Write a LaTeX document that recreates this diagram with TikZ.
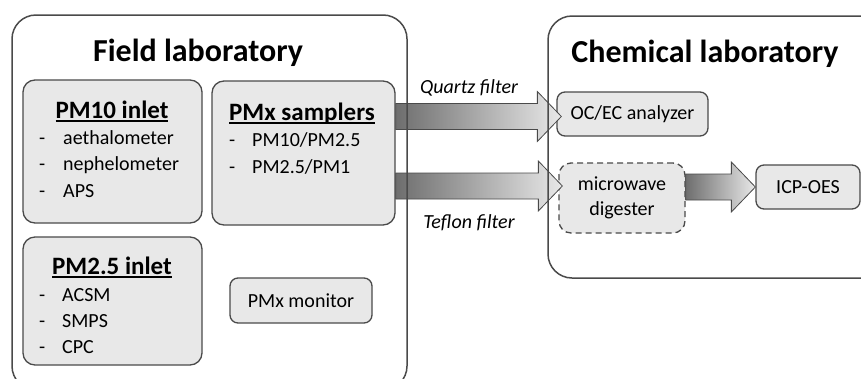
\documentclass[tikz,border=0pt]{standalone}
\usepackage{fontspec}
\setmainfont{Carlito}
\usetikzlibrary{calc,positioning}

\definecolor{boxfill}{HTML}{E8E8E8}
\definecolor{boxline}{HTML}{4A4A4A}
\definecolor{arrowdark}{HTML}{6E6E6E}
\definecolor{arrowlight}{HTML}{E8E8E8}

% underline for the box headings
\newcommand{\hdul}[1]{\setbox0\hbox{#1}\rlap{\rule[-3.5pt]{\wd0}{1.3pt}}\box0}

% big shaded arrow from (#1) to (#2)
\newcommand{\fatarrow}[2]{%
  \path[fat] let \p1=(#1), \p2=(#2) in
    (\x1,\y1+13pt) -- (\x2-24pt,\y1+13pt) -- (\x2-24pt,\y1+25pt) -- (\x2,\y1)
    -- (\x2-24pt,\y1-25pt) -- (\x2-24pt,\y1-13pt) -- (\x1,\y1-13pt) -- cycle;}

\tikzset{
  sub/.style={draw=boxline, fill=boxfill, line width=1.3pt, rounded corners=12pt, inner sep=0pt},
  labbox/.style={draw=boxline, line width=1.5pt, rounded corners=24pt},
  ttl/.style={font=\fontsize{32}{36}\selectfont\bfseries, anchor=base, inner sep=0pt},
  hd/.style={font=\fontsize{25}{30}\selectfont\bfseries, anchor=base, inner sep=0pt},
  itm/.style={font=\fontsize{20}{24}\selectfont, anchor=base west, inner sep=0pt},
  flt/.style={font=\fontsize{20}{24}\selectfont\itshape, anchor=base, inner sep=0pt},
  fat/.style={draw=boxline, line width=0.8pt, left color=arrowdark, right color=arrowlight}
}

\begin{document}
\begin{tikzpicture}[x=1pt, y=-1pt]
  \useasboundingbox (0,0) rectangle (861,378);
  \clip (0,0) rectangle (861,378);

  % Field laboratory
  \node[ttl] (fieldttl) at (198,61) {Field laboratory};

  \node[sub, minimum width=179pt, minimum height=143pt] (pm10) at (112.5,151.5) {};
  \node[hd] (pm10hd) at (112,118) {\hdul{PM10 inlet}};
  \foreach \t [count=\i] in {aethalometer, nephelometer, APS} {
    \node[itm] (pm10d\i) at (39,117.5+26.5*\i) {-};
    \node[itm] (pm10i\i) at (63,117.5+26.5*\i) {\t};
  }

  \node[sub, minimum width=183pt, minimum height=144pt] (smp) at (303.5,153) {};
  \node[hd] (smphd) at (302,120) {\hdul{PMx samplers}};
  \foreach \t [count=\i] in {PM10/PM2.5, PM2.5/PM1} {
    \node[itm] (smpd\i) at (229,119.5+27*\i) {-};
    \node[itm] (smpi\i) at (252,119.5+27*\i) {\t};
  }

  \node[sub, minimum width=179pt, minimum height=128pt] (pm25) at (112.5,301) {};
  \node[hd] (pm25hd) at (112,274) {\hdul{PM2.5 inlet}};
  \foreach \t [count=\i] in {ACSM, SMPS, CPC} {
    \node[itm] (pm25d\i) at (39,276+25.7*\i) {-};
    \node[itm] (pm25i\i) at (62,276+25.7*\i) {\t};
  }

  \node[sub, minimum width=142pt, minimum height=45pt, rounded corners=8pt,
        font=\fontsize{20}{24}\selectfont] (mon) at (301,300.5) {PMx monitor};

  % Chemical laboratory
  \node[ttl] (chemttl) at (705,62) {Chemical laboratory};

  \node[sub, minimum width=151pt, minimum height=44pt, rounded corners=8pt,
        font=\fontsize{20}{24}\selectfont] (ocec) at (632.5,114) {OC/EC analyzer};
  \node[sub, dash pattern=on 6pt off 4pt, minimum width=126pt, minimum height=70pt,
        align=center, font=\fontsize{20}{25}\selectfont] (dig) at (622,198) {microwave\\digester};
  \node[sub, minimum width=104pt, minimum height=44pt, rounded corners=8pt,
        font=\fontsize{20}{24}\selectfont] (icp) at (808,187) {ICP-OES};

  % Filter transfer
  \coordinate (qs) at ($(smp.east)+(0,-36.5)$);
  \coordinate (qe) at ($(qs -| ocec.west)+(5,0)$);
  \coordinate (ts) at ($(smp.east)+(0,33)$);
  \coordinate (te) at ($(ts -| dig.west)+(4,0)$);
  \coordinate (ds) at (dig.east |- icp.west);
  \fatarrow{qs}{qe}
  \fatarrow{ts}{te}
  \fatarrow{ds}{icp.west}

  \node[flt] (quartz) at (469,93) {Quartz filter};
  \node[flt] (teflon) at (469,228) {Teflon filter};

  % lab outlines
  \draw[labbox] (12,15) rectangle (407,390);
  \draw[labbox] (548,16) rectangle (895,278);
\end{tikzpicture}
\end{document}
